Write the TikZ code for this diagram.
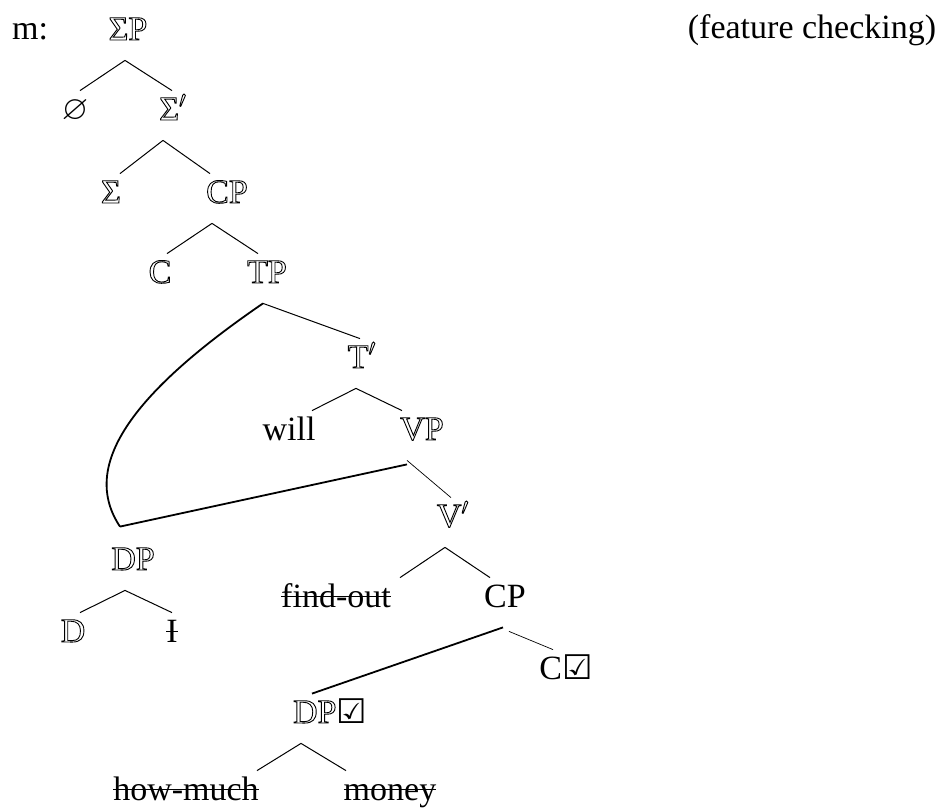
\documentclass[tikz,border=0pt]{standalone}
\usepackage{amssymb}
\usepackage{fontspec}
\setmainfont{Liberation Serif}
\newfontfamily\symf{DejaVu Sans}
\newcommand\hol[1]{\special{pdf:literal direct 1 Tr 0.45 w}#1\special{pdf:literal direct 0 Tr}}
\newcommand\strk[1]{\setbox0\hbox{#1}\rlap{\rule[0.28em]{\wd0}{0.9pt}}\box0}
\newcommand\chk{{\symf\bfseries\fontsize{17}{18}\selectfont\char"2611}}

\begin{document}
\begin{tikzpicture}[x=0.5pt,y=-0.5pt,font=\fontsize{17}{20}\selectfont,lbl/.style={anchor=base,inner xsep=1pt,inner ysep=4pt,text height=10.5pt,text depth=6pt},br/.style={line width=0.5pt},mv/.style={line width=0.9pt},tn/.style={line width=0.35pt}]
\useasboundingbox (0,0) rectangle (943,808);
\node[lbl] (m) at (30,40) {m:};
\node[lbl] (sp) at (128,40) {\hol{ΣP}};
\node[lbl] (fc) at (812,39) {(feature checking)};
\node[lbl] (null) at (75,120) {$\varnothing$};
\node[lbl] (sbar) at (173,120) {\hol{Σ$'$}};
\node[lbl] (sig) at (111,203) {\hol{Σ}};
\node[lbl] (cp1) at (227,203) {\hol{CP}};
\node[lbl] (c1) at (160,283) {\hol{C}};
\node[lbl] (tp) at (267,283) {\hol{TP}};
\node[lbl] (tbar) at (362,368) {\hol{T$'$}};
\node[lbl] (will) at (289,440) {will};
\node[lbl] (vp) at (422,440) {\hol{VP}};
\node[lbl] (vbar) at (453,527) {\hol{V$'$}};
\node[lbl] (dp1) at (133,570) {\hol{DP}};
\node[lbl] (d) at (73,642) {\hol{D}};
\node[lbl] (i) at (172,642) {\strk{I}};
\node[lbl] (find) at (336,607) {\strk{find-out}};
\node[lbl] (cp2) at (505,607) {CP};
\node[lbl] (ck) at (566,679) {C\chk};
\node[lbl] (dp2) at (330,723) {\hol{DP}\chk};
\node[lbl] (how) at (186,800) {\strk{how-much}};
\node[lbl] (money) at (390,800) {\strk{money}};
\foreach \a/\sa/\b/\sb in {sp/-3/null/5,sp/-3/sbar/-1,sbar/-10/sig/9,sbar/-10/cp1/-17,cp1/-15/c1/7,cp1/-15/tp/-9,tp/-4/tbar/-2,tbar/-6/will/23,tbar/-6/vp/-20,dp1/-8/d/7,dp1/-8/i/0,vbar/-8/find/64,vbar/-8/cp2/-15,dp2/-29/how/71,dp2/-29/money/-44}{\draw[br] ([xshift=\sa*0.5pt]\a.south)--([xshift=\sb*0.5pt]\b.north);}
\coordinate (dtop) at ([xshift=-6.5pt,yshift=7pt]dp1.north);
\draw[mv] ([xshift=-2pt]tp.south) .. controls +(-133,91) and +(-40,-60) .. (dtop);
\draw[mv] ([xshift=-7.5pt,yshift=-2pt]vp.south)--(dtop);
\draw[tn] ([xshift=-7.5pt]vp.south)--([xshift=-1pt]vbar.north);
\draw[mv] ([xshift=-1pt]cp2.south)--([xshift=-9pt]dp2.north);
\draw[tn] ([xshift=2pt,yshift=-2pt]cp2.south)--([xshift=-6.5pt]ck.north);
\end{tikzpicture}
\end{document}
